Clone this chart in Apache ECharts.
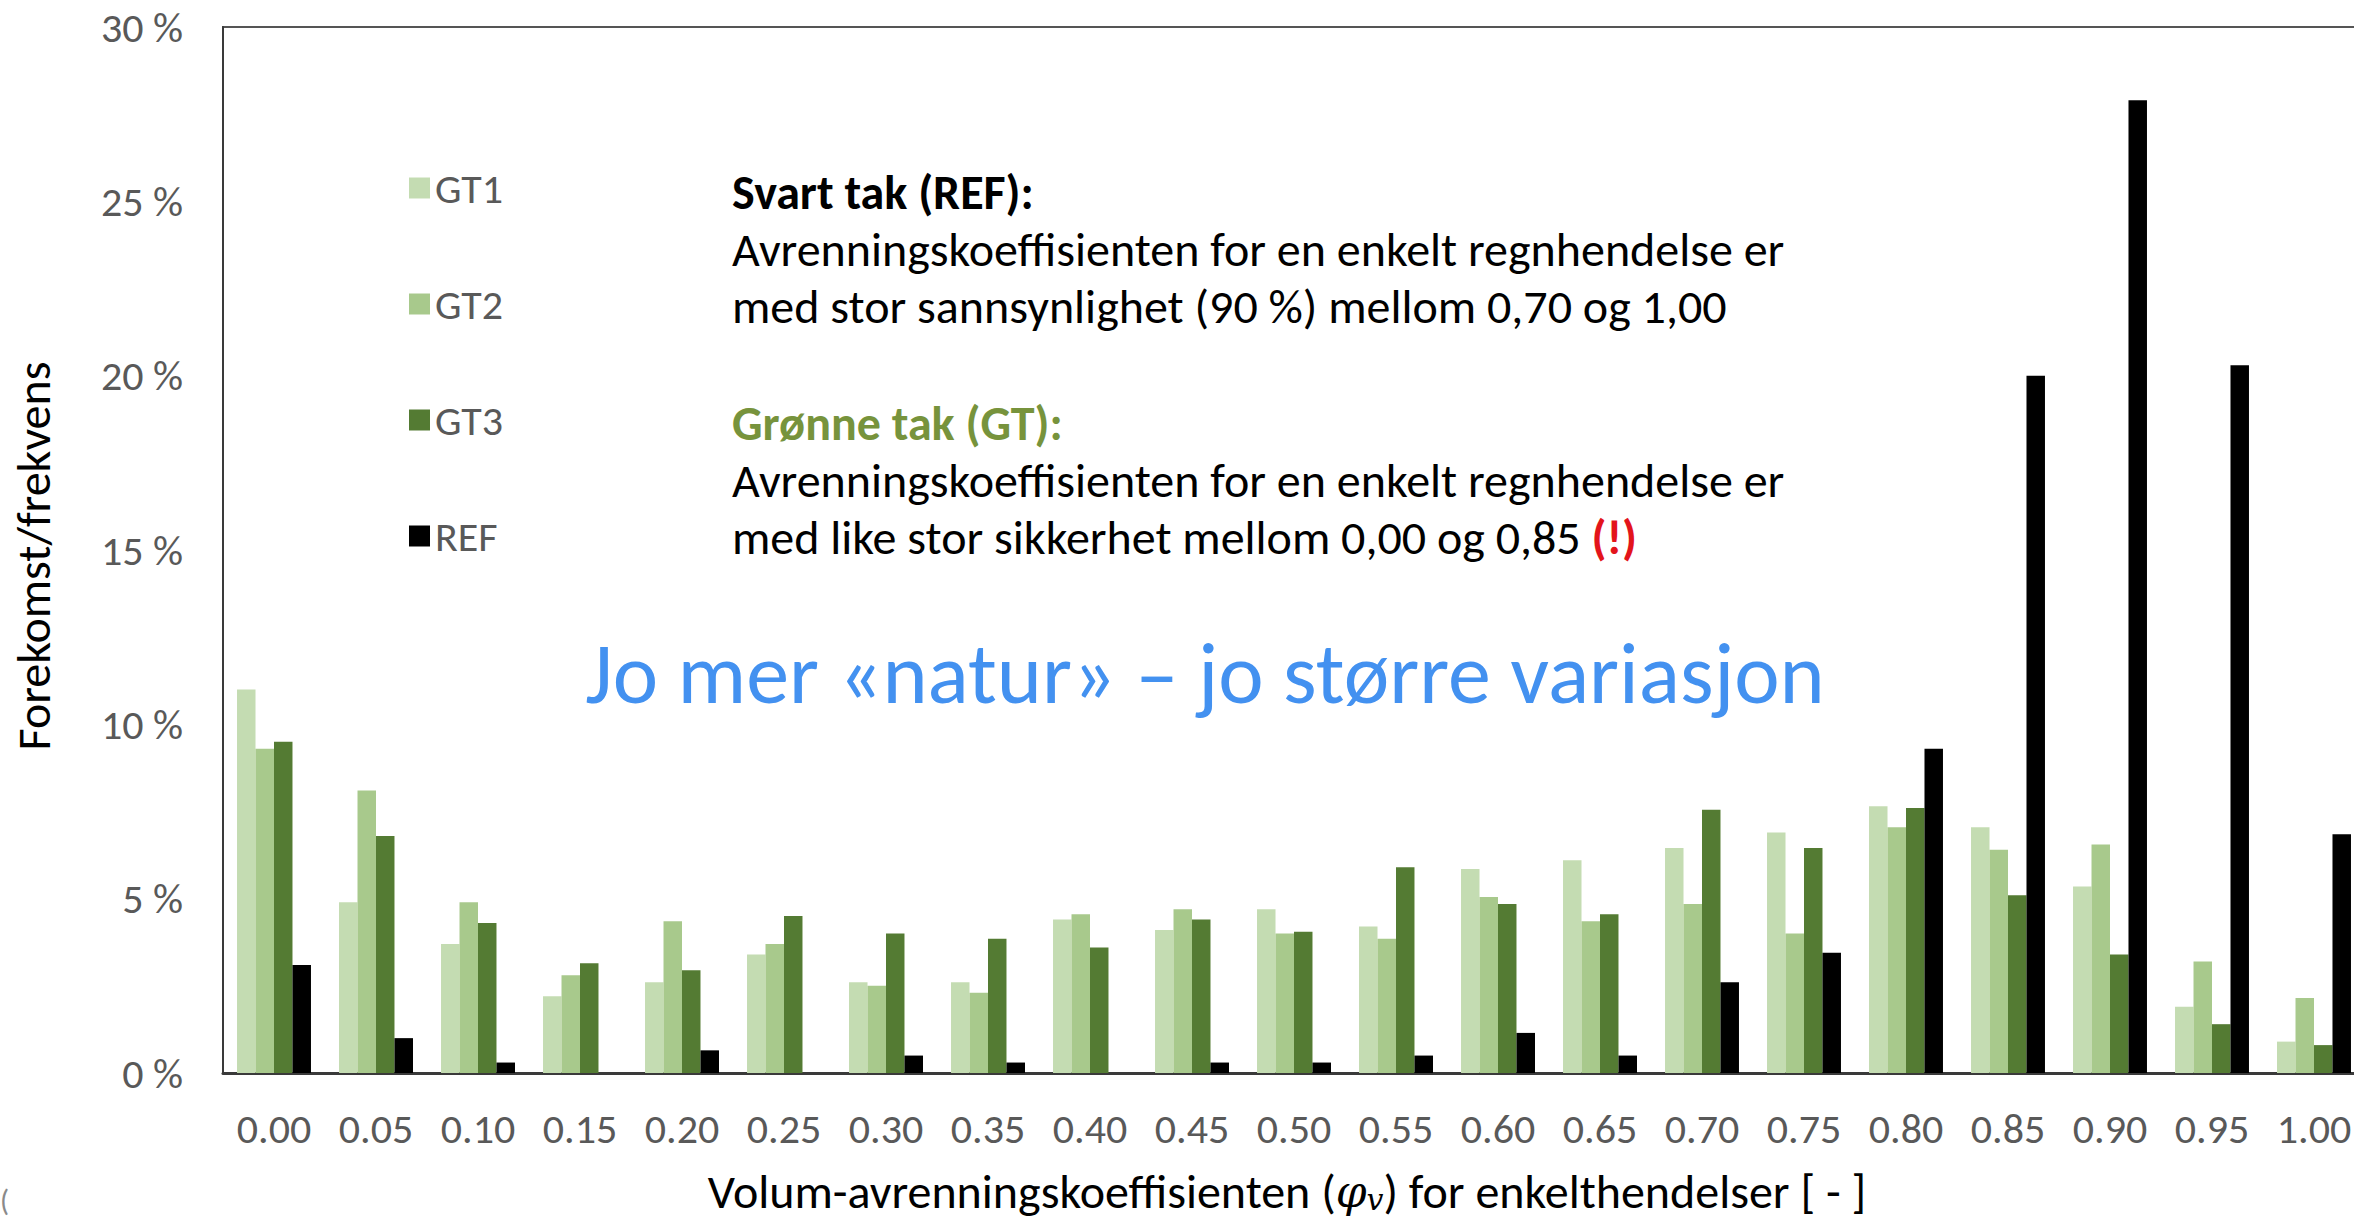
<!DOCTYPE html>
<html>
<head>
<meta charset="utf-8">
<script src="https://cdn.jsdelivr.net/npm/echarts@6/dist/echarts.min.js"></script>
<style>
  html, body { margin: 0; padding: 0; background: #fff; }
  #chart { width: 2354px; height: 1223px; }
</style>
</head>
<body>
<div id="chart"></div>
<script>
// ---- data ----
const categories = ['0.00','0.05','0.10','0.15','0.20','0.25','0.30','0.35','0.40','0.45','0.50',
                    '0.55','0.60','0.65','0.70','0.75','0.80','0.85','0.90','0.95','1.00'];
const gt1 = [11.0, 4.9, 3.7, 2.2, 2.6, 3.4, 2.6, 2.6, 4.4, 4.1, 4.7, 4.2, 5.85, 6.1, 6.45, 6.9, 7.65, 7.05, 5.35, 1.9, 0.9];
const gt2 = [9.3, 8.1, 4.9, 2.8, 4.35, 3.7, 2.5, 2.3, 4.55, 4.7, 4.0, 3.85, 5.05, 4.35, 4.85, 4.0, 7.05, 6.4, 6.55, 3.2, 2.15];
const gt3 = [9.5, 6.8, 4.3, 3.15, 2.95, 4.5, 4.0, 3.85, 3.6, 4.4, 4.05, 5.9, 4.85, 4.55, 7.55, 6.45, 7.6, 5.1, 3.4, 1.4, 0.8];
const ref = [3.1, 1.0, 0.3, 0, 0.65, 0, 0.5, 0.3, 0, 0.3, 0.3, 0.5, 1.15, 0.5, 2.6, 3.45, 9.3, 20.0, 27.9, 20.3, 6.85];
const seriesNames = ['GT1', 'GT2', 'GT3', 'REF'];
const seriesColors = ['#C4DCB2', '#A8C98C', '#547B33', '#000000'];
const yTicks = { min: 0, max: 30, interval: 5 };
const yTitle = 'Forekomst/frekvens';
const headline = 'Jo mer «natur» – jo større variasjon';

const FONT = 'Carlito, Lato, sans-serif';
const chart = echarts.init(document.getElementById('chart'), null, { renderer: 'svg' });

const values = [gt1, gt2, gt3, ref];
const series = seriesNames.map((n, i) => ({
  name: n,
  type: 'bar',
  data: values[i],
  barGap: '0%',
  barCategoryGap: '27.5%',
  itemStyle: { color: seriesColors[i] }
}));

const bodyStyle = { fontFamily: FONT, fontSize: 48, fill: '#000', align: 'left', verticalAlign: 'middle' };

chart.setOption({
  backgroundColor: '#ffffff',
  animation: false,
  textStyle: { fontFamily: FONT },
  legend: {
    orient: 'vertical',
    left: 404, top: 161,
    itemWidth: 21, itemHeight: 21, itemGap: 72,
    icon: 'rect',
    textStyle: { fontSize: 42, color: '#595959', lineHeight: 44, fontFamily: FONT },
    data: seriesNames
  },
  grid: {
    left: 223, top: 27, width: 2142, height: 1046,
    show: true, borderColor: '#555555', borderWidth: 2,
    containLabel: false, outerBoundsMode: 'none'
  },
  xAxis: {
    type: 'category',
    data: categories,
    axisLine: { lineStyle: { color: '#3a3a3a', width: 3 } },
    axisTick: { show: false },
    axisLabel: { color: '#595959', fontSize: 42, margin: 34, interval: 0, fontFamily: FONT }
  },
  yAxis: {
    type: 'value',
    min: yTicks.min, max: yTicks.max, interval: yTicks.interval,
    splitLine: { show: false },
    axisLine: { show: true, lineStyle: { color: '#3a3a3a', width: 2 } },
    axisTick: { show: false },
    axisLabel: { formatter: '{value} %', color: '#595959', fontSize: 42, margin: 40, fontFamily: FONT }
  },
  graphic: [
    { type: 'text', x: 33, y: 556, rotation: Math.PI / 2,
      style: { text: yTitle, fontFamily: FONT, fontSize: 48, fill: '#000', align: 'center', verticalAlign: 'middle' } },
    { type: 'text', x: 1287, y: 1191,
      style: {
        text: '{t|Volum-avrenningskoeffisienten (}{p|φ}{s|v}{t|) for enkelthendelser [ - ]}',
        align: 'center', verticalAlign: 'middle',
        rich: {
          t: { fontFamily: FONT, fontSize: 48, fill: '#000', lineHeight: 46 },
          p: { fontFamily: 'DejaVu Serif', fontStyle: 'italic', fontSize: 44, fill: '#000', lineHeight: 46 },
          s: { fontFamily: 'DejaVu Serif', fontStyle: 'italic', fontSize: 30, fill: '#000', lineHeight: 30, verticalAlign: 'bottom' }
        }
      } },
    { type: 'text', x: 732, y: 192, style: Object.assign({}, bodyStyle, { text: 'Svart tak (REF):', fontWeight: 'bold' }) },
    { type: 'text', x: 732, y: 249, style: Object.assign({}, bodyStyle, { text: 'Avrenningskoeffisienten for en enkelt regnhendelse er' }) },
    { type: 'text', x: 732, y: 306, style: Object.assign({}, bodyStyle, { text: 'med stor sannsynlighet (90 %) mellom 0,70 og 1,00' }) },
    { type: 'text', x: 732, y: 423, style: Object.assign({}, bodyStyle, { text: 'Grønne tak (GT):', fontWeight: 'bold', fill: '#77933C' }) },
    { type: 'text', x: 732, y: 480, style: Object.assign({}, bodyStyle, { text: 'Avrenningskoeffisienten for en enkelt regnhendelse er' }) },
    { type: 'text', x: 732, y: 537, style: {
        text: '{n|med like stor sikkerhet mellom 0,00 og 0,85 }{r|(!)}',
        align: 'left', verticalAlign: 'middle',
        rich: {
          n: { fontFamily: FONT, fontSize: 48, fill: '#000' },
          r: { fontFamily: FONT, fontSize: 48, fill: '#E3141B', fontWeight: 'bold' }
        } } },
    { type: 'text', x: 1205, y: 673,
      style: { text: headline, fontFamily: FONT, fontSize: 86, fill: '#4391F0', align: 'center', verticalAlign: 'middle' } },
    { type: 'text', x: 0, y: 1200,
      style: { text: '(', fontFamily: FONT, fontSize: 30, fill: '#8a8a8a', align: 'left', verticalAlign: 'middle' } }
  ],
  series: series
});
</script>
</body>
</html>
